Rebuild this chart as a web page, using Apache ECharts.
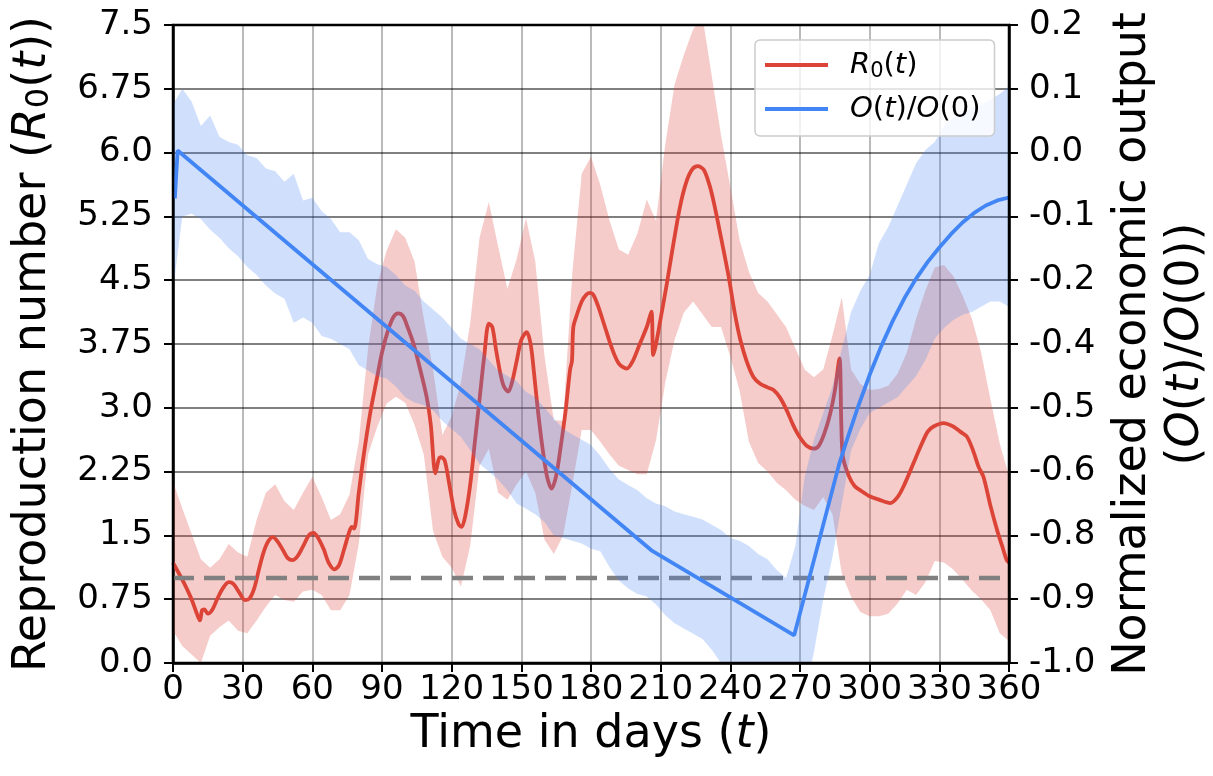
<!DOCTYPE html>
<html lang="en">
<head>
<meta charset="UTF-8">
<title>R0 and economic output</title>
<style>html,body{margin:0;padding:0;background:#fff}</style>
</head>
<body>
<div id="chart" style="width:1213px;height:776px"></div>
<script src="https://cdn.jsdelivr.net/npm/echarts@6/dist/echarts.min.js"></script>
<script>
// tick labels as printed on the figure
var leftTickLabels = ['0.0', '0.75', '1.5', '2.25', '3.0', '3.75', '4.5', '5.25', '6.0', '6.75', '7.5'];
var rightTickLabels = ['-1.0', '-0.9', '-0.8', '-0.6', '-0.5', '-0.4', '-0.2', '-0.1', '0.0', '0.1', '0.2'];
var thresholdR0 = 1;

// R0(t) mean curve
var redDays = [0, 2, 4, 6, 8, 10, 11.6, 12.5, 13.5, 15, 17, 19, 21.5, 24, 26, 28.5, 31, 33, 35, 37,
    39, 41, 43, 45, 47.5, 49.5, 51.5, 53.5, 56, 58.5, 60.5, 62.5, 65, 67, 69.5, 71.5, 73.5, 76, 77, 78,
    80, 82, 85, 87.7, 90, 92.6, 95, 97, 99, 101, 103.5, 106, 109.2, 111, 113, 114.5, 115.5, 117, 119, 121,
    123, 124.3, 126, 128, 130, 132, 134, 136, 137.5, 139, 141, 142.5, 144.4, 146, 148, 150, 152.3, 154, 155.5, 157,
    159, 161, 163, 165, 167, 169, 171, 171.8, 172.4, 174, 176, 178, 179.6, 181, 183, 186, 189, 192, 195.4, 198,
    201, 204, 206, 206.8, 208, 210, 212.6, 215, 218.3, 221, 223.5, 226, 228.5, 231, 233, 236, 239.3, 242, 244.3, 247,
    250, 253, 256, 258.6, 261.4, 264.3, 267, 270, 273, 275.8, 278, 280.5, 283, 285, 287, 287.8, 288.5, 291, 293.5, 296,
    300, 304, 308.8, 312, 315, 318.9, 322, 325, 327.5, 331.8, 336, 339, 341.9, 344.5, 347, 349, 352, 355, 357, 359, 360];
var redValues = [1.18, 1.08, 0.98, 0.87, 0.75, 0.6, 0.50, 0.62, 0.63, 0.58, 0.63, 0.75, 0.88, 0.95, 0.93, 0.83, 0.74, 0.76, 0.88, 1.1,
    1.3, 1.43, 1.48, 1.43, 1.32, 1.23, 1.21, 1.25, 1.37, 1.5, 1.53, 1.47, 1.33, 1.18, 1.10, 1.15, 1.32, 1.55, 1.6, 1.58,
    2.0, 2.42, 2.95, 3.33, 3.65, 3.91, 4.07, 4.11, 4.08, 3.95, 3.76, 3.5, 3.13, 2.8, 2.23, 2.4, 2.42, 2.38, 2.1, 1.8,
    1.63, 1.60, 1.75, 2.1, 2.6, 3.1, 3.6, 3.99, 3.95, 3.7, 3.4, 3.25, 3.19, 3.3, 3.55, 3.8, 3.89, 3.75, 3.4, 3.0,
    2.55, 2.2, 2.05, 2.2, 2.55, 2.95, 3.45, 3.55, 3.95, 4.1, 4.25, 4.33, 4.35, 4.33, 4.2, 3.95, 3.7, 3.52, 3.46, 3.55,
    3.75, 3.95, 4.13, 3.62, 3.75, 4.05, 4.45, 4.85, 5.36, 5.65, 5.8, 5.84, 5.8, 5.62, 5.4, 5.0, 4.54, 4.1, 3.8, 3.55,
    3.36, 3.28, 3.24, 3.21, 3.12, 2.97, 2.8, 2.65, 2.55, 2.52, 2.55, 2.7, 2.93, 3.2, 3.58, 2.8, 2.42, 2.2, 2.08, 2.03,
    1.96, 1.92, 1.88, 1.95, 2.1, 2.35, 2.55, 2.72, 2.78, 2.82, 2.78, 2.72, 2.66, 2.5, 2.3, 2.19, 1.85, 1.55, 1.38, 1.21, 1.18];

// O(t)/O(0) mean curve
var blueDays = [0.8, 2, 206, 267.5, 285, 287, 290, 295, 300, 305,
    310, 315, 320, 325, 330, 335, 340, 345, 350, 355, 360];
var blueValues = [-0.126, -0.036, -0.788, -0.948, -0.657, -0.624, -0.583, -0.518, -0.458, -0.404,
    -0.356, -0.3135, -0.277, -0.2455, -0.2185, -0.1935, -0.1715, -0.1535, -0.1395, -0.13, -0.1245];

// uncertainty bands, sampled every 4 days
var bandDays = [0, 4, 8, 12, 16, 20, 24, 28, 32, 36,
    40, 44, 48, 52, 56, 60, 64, 68, 72, 76,
    80, 84, 88, 92, 96, 100, 104, 108, 112, 116,
    120, 124, 128, 132, 136, 140, 144, 148, 152, 156,
    160, 164, 168, 172, 176, 180, 184, 188, 192, 196,
    200, 204, 208, 212, 216, 220, 224, 228, 232, 236,
    240, 244, 248, 252, 256, 260, 264, 268, 272, 276,
    280, 284, 288, 292, 296, 300, 304, 308, 312, 316,
    320, 324, 328, 332, 336, 340, 344, 348, 352, 356,
    360];
var redHigh = [2.13, 1.82, 1.52, 1.22, 1.12, 1.22, 1.40, 1.30, 1.25, 1.68,
    2.00, 2.10, 1.90, 1.80, 2.00, 2.19, 1.95, 1.68, 1.75, 1.98,
    2.60, 3.70, 4.45, 4.85, 5.10, 5.00, 4.72, 4.05, 3.45, 2.68,
    2.90, 3.30, 4.00, 5.00, 5.42, 4.90, 4.40, 4.75, 5.23, 4.72,
    3.60, 2.85, 2.85, 4.60, 5.75, 5.95, 5.62, 5.20, 4.86, 4.80,
    5.05, 5.45, 5.20, 6.10, 6.80, 7.15, 7.45, 7.60, 6.90, 6.20,
    5.60, 4.97, 4.60, 4.35, 4.25, 4.10, 3.95, 3.70, 3.45, 3.36,
    3.45, 3.85, 4.30, 3.45, 3.28, 3.21, 3.22, 3.26, 3.40, 3.65,
    4.05, 4.38, 4.65, 4.68, 4.55, 4.32, 4.05, 3.65, 3.10, 2.58,
    2.20];
var redLow = [0.38, 0.20, 0.10, 0.00, 0.32, 0.42, 0.50, 0.38, 0.35, 0.50,
    0.66, 0.80, 0.74, 0.72, 0.84, 0.86, 0.80, 0.62, 0.62, 0.80,
    1.40, 2.45, 2.78, 3.05, 3.13, 3.06, 2.80, 2.45, 1.55, 1.25,
    1.12, 0.90, 1.38, 2.32, 2.52, 2.00, 1.92, 2.10, 2.25, 2.00,
    1.45, 1.28, 1.50, 2.10, 2.74, 2.74, 2.60, 2.45, 2.32, 2.27,
    2.22, 2.22, 2.62, 3.30, 3.80, 4.12, 4.25, 4.10, 3.95, 3.95,
    3.60, 3.20, 2.60, 2.35, 2.25, 2.12, 2.03, 1.92, 1.85, 1.80,
    1.95, 1.75, 1.05, 0.78, 0.60, 0.55, 0.55, 0.58, 0.70, 0.86,
    0.80, 0.95, 1.20, 1.18, 1.10, 0.98, 0.85, 0.75, 0.62, 0.35,
    0.26];
var blueHigh = [0.05, 0.08, 0.056, 0.01, 0.03, -0.01, -0.02, -0.025, -0.045, -0.05,
    -0.07, -0.075, -0.095, -0.08, -0.13, -0.125, -0.15, -0.165, -0.19, -0.19,
    -0.205, -0.24, -0.25, -0.255, -0.27, -0.29, -0.30, -0.32, -0.335, -0.35,
    -0.37, -0.39, -0.40, -0.41, -0.43, -0.45, -0.46, -0.47, -0.49, -0.50,
    -0.52, -0.54, -0.56, -0.57, -0.58, -0.59, -0.61, -0.635, -0.655, -0.665,
    -0.675, -0.69, -0.70, -0.705, -0.715, -0.72, -0.725, -0.73, -0.74, -0.75,
    -0.765, -0.77, -0.78, -0.795, -0.805, -0.825, -0.84, -0.78, -0.65, -0.58,
    -0.53, -0.48, -0.41, -0.34, -0.30, -0.27, -0.21, -0.18, -0.14, -0.10,
    -0.06, -0.035, -0.02, 0.01, 0.025, 0.035, 0.045, 0.05, 0.06, 0.07,
    0.085];
var blueLow = [-0.30, -0.16, -0.155, -0.165, -0.185, -0.20, -0.22, -0.235, -0.255, -0.27,
    -0.29, -0.305, -0.315, -0.36, -0.35, -0.36, -0.385, -0.39, -0.40, -0.41,
    -0.44, -0.45, -0.46, -0.465, -0.48, -0.50, -0.51, -0.515, -0.525, -0.545,
    -0.56, -0.575, -0.60, -0.625, -0.64, -0.655, -0.675, -0.70, -0.71, -0.72,
    -0.735, -0.76, -0.765, -0.77, -0.775, -0.785, -0.79, -0.82, -0.845, -0.86,
    -0.87, -0.875, -0.89, -0.91, -0.925, -0.935, -0.945, -0.955, -0.975, -1.0,
    -1.02, -1.03, -1.04, -1.05, -1.06, -1.07, -1.08, -1.08, -1.06, -0.98,
    -0.88, -0.80, -0.70, -0.60, -0.56, -0.53, -0.52, -0.51, -0.50, -0.48,
    -0.46, -0.43, -0.39, -0.37, -0.355, -0.345, -0.34, -0.33, -0.32, -0.32,
    -0.33];

var RED = '#DB4437', BLUE = '#4285F4';
var FONT = 'DejaVu Sans';

function pairs(xs, ys) {
    var out = [];
    for (var i = 0; i < xs.length; i++) out.push([xs[i], ys[i]]);
    return out;
}

// filled band between lo and hi, drawn through the series' own axes
function band(yIdx, days, lo, hi, color, z) {
    return {
        type: 'custom', yAxisIndex: yIdx, silent: true, z: z, data: [[days[0], lo[0]]],
        renderItem: function (params, api) {
            var pts = [], i;
            for (i = 0; i < days.length; i++) pts.push(api.coord([days[i], hi[i]]));
            for (i = days.length - 1; i >= 0; i--) pts.push(api.coord([days[i], lo[i]]));
            var cs = params.coordSys;
            return {
                type: 'polygon',
                shape: {points: pts},
                style: {fill: color},
                clipPath: {type: 'rect', shape: {x: cs.x, y: cs.y, width: cs.width, height: cs.height}}
            };
        }
    };
}

var chart = echarts.init(document.getElementById('chart'), null, {renderer: 'canvas'});

var titleRich = {
    i: {fontStyle: 'italic', fontSize: 46, fontFamily: FONT},
    s: {fontSize: 32, fontFamily: FONT, verticalAlign: 'bottom', lineHeight: 42}
};

var option = {
    animation: false,
    backgroundColor: '#fff',
    textStyle: {fontFamily: FONT},
    grid: {left: 173, right: 204, top: 25, bottom: 113, outerBoundsMode: 'none', containLabel: false,
        show: true, borderColor: '#000', borderWidth: 2.5, z: 10},
    legend: {
        data: [{name: 'R0', icon: 'rect'}, {name: 'O', icon: 'rect'}],
        left: 755, top: 40, z: 20,
        orient: 'vertical',
        padding: [8, 14, 10, 10],
        itemWidth: 63, itemHeight: 4, itemGap: 10,
        backgroundColor: 'rgba(255,255,255,0.8)',
        borderColor: '#cccccc', borderWidth: 1.5, borderRadius: 5,
        textStyle: {
            fontSize: 29, fontFamily: FONT, color: '#000', padding: [0, 0, 0, 17], lineHeight: 34,
            rich: {
                i: {fontStyle: 'italic', fontSize: 29, fontFamily: FONT, lineHeight: 34},
                n: {fontSize: 29, fontFamily: FONT, lineHeight: 34},
                s: {fontSize: 21, fontFamily: FONT, verticalAlign: 'bottom', lineHeight: 30}
            }
        },
        formatter: function (name) {
            if (name === 'R0') return '{i|R}{s|0}{n|(}{i|t}{n|)}';
            return '{i|O}{n|(}{i|t}{n|)/}{i|O}{n|(0)}';
        }
    },
    xAxis: {
        type: 'value', min: 0, max: 360, interval: 30,
        name: 'Time in days ({i|t})', nameLocation: 'middle', nameGap: 38,
        nameTextStyle: {fontSize: 46, fontFamily: FONT, color: '#000', rich: titleRich},
        axisLine: {lineStyle: {color: '#000', width: 2.5}},
        axisTick: {length: 9, lineStyle: {color: '#000', width: 2}},
        axisLabel: {fontSize: 34, color: '#000', margin: 10, fontFamily: FONT},
        splitLine: {show: true, lineStyle: {color: 'rgba(0,0,0,0.27)', width: 2}}
    },
    yAxis: [{
        type: 'value', min: 0, max: 7.5, interval: 0.75,
        name: 'Reproduction number ({i|R}{s|0}({i|t}))', nameLocation: 'middle', nameGap: 117, nameRotate: 90,
        nameTextStyle: {fontSize: 46, fontFamily: FONT, color: '#000', rich: titleRich},
        axisLine: {show: true, lineStyle: {color: '#000', width: 2.5}},
        axisTick: {show: true, length: 9, lineStyle: {color: '#000', width: 2}},
        axisLabel: {fontSize: 34, color: '#000', margin: 20, fontFamily: FONT,
            formatter: function (v) { return leftTickLabels[Math.round(v / 0.75)]; }},
        splitLine: {show: true, lineStyle: {color: 'rgba(0,0,0,0.5)', width: 2}}
    }, {
        type: 'value', min: -1, max: 0.2, show: false,
        splitLine: {show: false}
    }, {
        type: 'value', min: 0, max: 7.5, interval: 0.75, position: 'right',
        name: 'Normalized economic output\n({i|O}({i|t})/{i|O}(0))', nameLocation: 'middle', nameGap: 98, nameRotate: 90,
        nameTextStyle: {fontSize: 46, fontFamily: FONT, color: '#000', lineHeight: 53, rich: titleRich},
        axisLine: {show: true, lineStyle: {color: '#000', width: 2.5}},
        axisTick: {show: true, length: 9, lineStyle: {color: '#000', width: 2}},
        axisLabel: {fontSize: 34, color: '#000', margin: 20, fontFamily: FONT,
            formatter: function (v) { return rightTickLabels[Math.round(v / 0.75)]; }},
        splitLine: {show: false}
    }],
    series: [
        band(0, bandDays, redLow, redHigh, 'rgba(219,68,55,0.27)', 1),
        {name: 'R0', type: 'line', z: 2, data: pairs(redDays, redValues), symbol: 'none', smooth: 0.3,
            lineStyle: {color: RED, width: 3.8}, itemStyle: {color: RED}},
        {name: 'threshold', type: 'line', z: 3, data: [[0, thresholdR0], [360, thresholdR0]], symbol: 'none',
            lineStyle: {color: '#808080', width: 4.5, type: [21, 10]}, silent: true},
        band(1, bandDays, blueLow, blueHigh, 'rgba(66,133,244,0.25)', 4),
        {name: 'O', type: 'line', z: 5, yAxisIndex: 1, data: pairs(blueDays, blueValues), symbol: 'none',
            lineStyle: {color: BLUE, width: 3.8}, itemStyle: {color: BLUE}}
    ]
};
chart.setOption(option);
</script>
</body>
</html>
